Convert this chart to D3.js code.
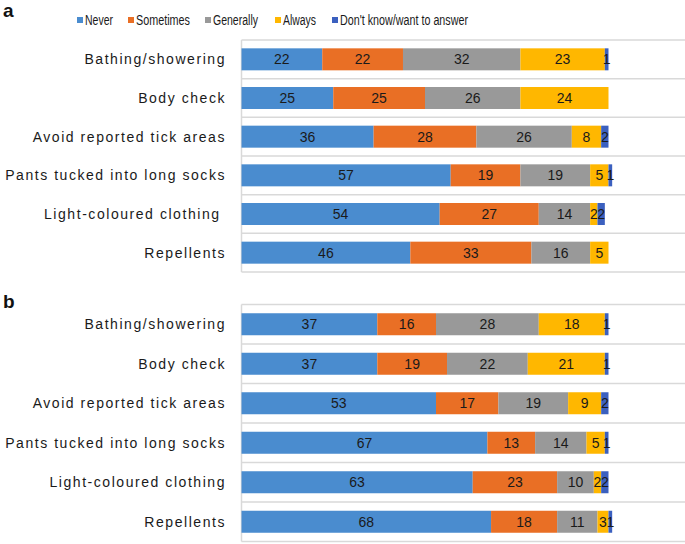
<!DOCTYPE html>
<html>
<head>
<meta charset="utf-8">
<script src="https://cdn.jsdelivr.net/npm/d3@7"></script>
<style>
  body { margin: 0; background: #fff; }
  svg { display: block; }
  text { font-family: "Liberation Sans", Arial, sans-serif; }
</style>
</head>
<body>
<svg id="chart" width="685" height="544"></svg>
<script>
const seriesNames = ["Never", "Sometimes", "Generally", "Always", "Don't know/want to answer"];
const colors = ["#4a8ccf", "#e96f25", "#999999", "#ffb700", "#3b60bf"];

const categoriesA = ["Bathing/showering", "Body check", "Avoid reported tick areas", "Pants tucked into long socks", "Light-coloured clothing ", "Repellents"];
const categoriesB = ["Bathing/showering", "Body check", "Avoid reported tick areas", "Pants tucked into long socks", "Light-coloured clothing", "Repellents"];

// values per category: Never, Sometimes, Generally, Always, Don't know
const valuesA = [
  [22, 22, 32, 23, 1],
  [25, 25, 26, 24, 0],
  [36, 28, 26, 8, 2],
  [57, 19, 19, 5, 1],
  [54, 27, 14, 2, 2],
  [46, 33, 16, 5, 0]
];
const valuesB = [
  [37, 16, 28, 18, 1],
  [37, 19, 22, 21, 1],
  [53, 17, 19, 9, 2],
  [67, 13, 14, 5, 1],
  [63, 23, 10, 2, 2],
  [68, 18, 11, 3, 1]
];

const svg = d3.select("#chart");
const x = d3.scaleLinear().domain([0, 100]).range([241.5, 608.5]);
const plotRight = 685;

function panel(letter, letterY, cats, vals, y0, y1) {
  const y = d3.scaleBand().domain(cats).range([y0, y1]).paddingInner(0).paddingOuter(0);
  const g = svg.append("g");
  svg.append("text").attr("x", 3).attr("y", letterY).text(letter)
    .attr("font-size", 19).attr("font-weight", "bold").attr("fill", "#111");
  const bounds = cats.map(c => y(c)).concat([y1]);
  g.selectAll("line.grid").data(bounds).enter().append("line")
    .attr("x1", x(0)).attr("x2", plotRight)
    .attr("y1", d => d).attr("y2", d => d)
    .attr("stroke", "#d9d9d9").attr("stroke-width", 1.5);
  g.append("line").attr("x1", x(0)).attr("x2", x(0)).attr("y1", y0).attr("y2", y1)
    .attr("stroke", "#d9d9d9").attr("stroke-width", 1.5);
  const barH = 22;
  cats.forEach((c, i) => {
    let cum = 0;
    const cy = y(c) + y.bandwidth() / 2;
    vals[i].forEach((v, j) => {
      if (v <= 0) return;
      const xs = x(cum), xe = x(cum + v);
      g.append("rect").attr("x", xs).attr("y", cy - barH / 2)
        .attr("width", xe - xs).attr("height", barH)
        .attr("fill", colors[j]);
      g.append("text").attr("x", (xs + xe) / 2).attr("y", cy + 5)
        .attr("text-anchor", "middle").attr("font-size", 14).attr("fill", "#1a1a1a")
        .text(v);
      cum += v;
    });
    g.append("text").attr("x", 226).attr("y", cy + 5)
      .attr("text-anchor", "end").attr("font-size", 14).attr("letter-spacing", 1.55)
      .attr("fill", "#1a1a1a").style("white-space", "pre").text(c);
  });
}

panel("a", 17, categoriesA, valuesA, 40, 272);
panel("b", 308, categoriesB, valuesB, 304.5, 541.5);

// legend
const legendX = [77, 128, 205, 275, 332];
const legendW = [28, 54, 45, 33, 128];
const lg = svg.append("g");
seriesNames.forEach((n, i) => {
  lg.append("rect").attr("x", legendX[i]).attr("y", 17).attr("width", 6).attr("height", 6).attr("fill", colors[i]);
  lg.append("text").attr("x", legendX[i] + 8).attr("y", 25).attr("font-size", 14).attr("fill", "#1a1a1a")
    .attr("textLength", legendW[i]).attr("lengthAdjust", "spacingAndGlyphs").text(n);
});
</script>
</body>
</html>
